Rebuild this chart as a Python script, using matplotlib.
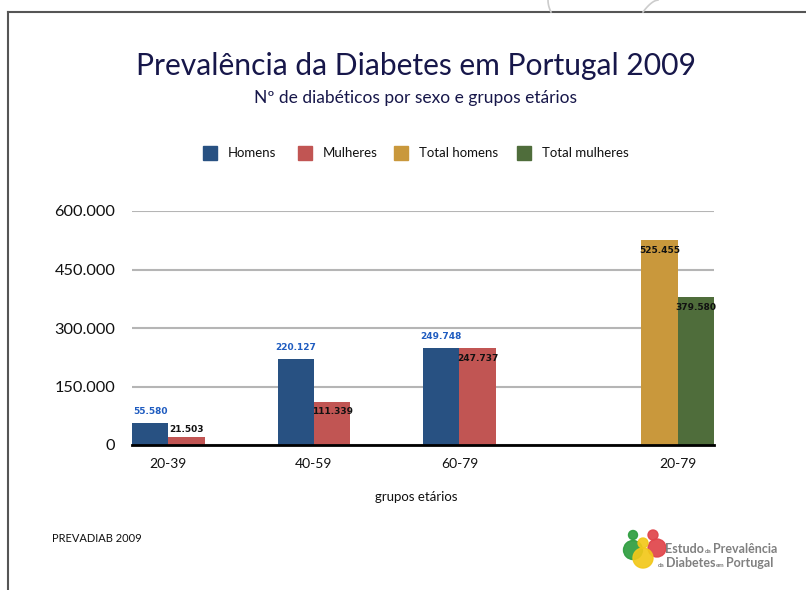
import matplotlib
matplotlib.use("Agg")
import matplotlib.pyplot as plt
from matplotlib.patches import Rectangle, Ellipse
from matplotlib.lines import Line2D
import numpy as np

# ---- data ----
groups = ['20-39', '40-59', '60-79']
homens = [55580, 220127, 249748]
mulheres = [21503, 111339, 247737]
total_group = ['20-79']
total_homens = [525455]
total_mulheres = [379580]
series_names = ['Homens', 'Mulheres', 'Total homens', 'Total mulheres']
yticks = [0, 150000, 300000, 450000, 600000]
ytick_labels = ['0', '150.000', '300.000', '450.000', '600.000']

colors = {'Homens': '#285182', 'Mulheres': '#c15553',
          'Total homens': '#c9983c', 'Total mulheres': '#4f6d3b'}

FONT = ['Lato', 'DejaVu Sans']
plt.rcParams['font.family'] = FONT

W, H = 806, 590
fig = plt.figure(figsize=(W / 100, H / 100), dpi=100)
fig.patch.set_facecolor('white')

def fx(px):
    return px / W

def fy(py):
    return 1 - py / H

# frame lines
fig.add_artist(Line2D([fx(8), fx(8)], [fy(12), fy(590)], color='#555555', lw=1.5))
fig.add_artist(Line2D([fx(8), fx(806)], [fy(12), fy(12)], color='#555555', lw=1.5))
# faint decorative arcs
t = np.linspace(0, 1, 20)
fig.add_artist(Line2D(fx(548 + 3 * t ** 2), fy(12 * t), color='#cccccc', lw=1.2))
fig.add_artist(Line2D(fx(658 - 15 * t ** 0.6), fy(12 * t), color='#cccccc', lw=1.2))

# axes
left, right, top, bottom = 132, 714, 211, 445
ax = fig.add_axes([fx(left), fy(bottom), fx(right - left), (bottom - top) / H])
bw = 0.25
xg = np.arange(len(groups))
xt = np.array([3.5])

ax.bar(xg - bw / 2, homens, bw, color=colors['Homens'], zorder=3)
ax.bar(xg + bw / 2, mulheres, bw, color=colors['Mulheres'], zorder=3)
ax.bar(xt - bw / 2, total_homens, bw, color=colors['Total homens'], zorder=3)
ax.bar(xt + bw / 2, total_mulheres, bw, color=colors['Total mulheres'], zorder=3)

ax.set_xlim(-bw, 3.5 + bw)
ax.set_ylim(0, 600000)
ax.set_yticks(yticks)
ax.set_yticklabels(ytick_labels, fontsize=11.8, color='#111111')
ax.set_xticks(list(xg) + list(xt))
ax.set_xticklabels(groups + total_group, fontsize=10, color='#111111')
ax.tick_params(axis='y', length=0, pad=12)
ax.tick_params(axis='x', length=0, pad=9)
for s in ['left', 'right', 'top']:
    ax.spines[s].set_visible(False)
ax.spines['bottom'].set_color('black')
ax.spines['bottom'].set_linewidth(2)
ax.spines['bottom'].set_zorder(4)
ax.yaxis.grid(True, color='#b5b5b5', lw=1.5, zorder=0)
ax.set_axisbelow(True)

def fmt(v):
    return '{:,}'.format(v).replace(',', '.')

lab_kw = dict(fontsize=6.5, fontweight='bold', family='DejaVu Sans', ha='center', zorder=5)
for x, v in zip(xg - bw / 2, homens):
    ax.annotate(fmt(v), (x, v), xytext=(0, 5), textcoords='offset points',
                va='bottom', color='#1f5cc0', **lab_kw)

def inside_labels(xs, vals):
    for x, v in zip(xs, vals):
        if v > 60000:
            ax.annotate(fmt(v), (x, v), xytext=(0, -4), textcoords='offset points',
                        va='top', color='#111111', **lab_kw)
        else:
            ax.annotate(fmt(v), (x, v), xytext=(0, 2), textcoords='offset points',
                        va='bottom', color='#111111', **lab_kw)

inside_labels(xg + bw / 2, mulheres)
inside_labels(xt - bw / 2, total_homens)
inside_labels(xt + bw / 2, total_mulheres)

# titles
fig.text(fx(416), fy(66), 'Prevalência da Diabetes em Portugal 2009', ha='center', va='center',
         fontsize=21.6, color='#17174a')
fig.text(fx(416), fy(98), 'Nº de diabéticos por sexo e grupos etários', ha='center', va='center',
         fontsize=12.5, color='#17174a')

# legend (manual)
sq_x = [203, 298, 394, 517]
for name, sx in zip(series_names, sq_x):
    fig.add_artist(Rectangle((fx(sx), fy(160)), fx(14), 14 / H, color=colors[name]))
    fig.text(fx(sx + 25), fy(153), name, ha='left', va='center', fontsize=9.5, color='#111111')

fig.text(fx(416), fy(497), 'grupos etários', ha='center', va='center', fontsize=9.5, color='#111111')
fig.text(fx(52), fy(538), 'PREVADIAB 2009', ha='left', va='center', fontsize=8, color='#111111')

# logo
for (cx, cy, r, c) in [(633, 550, 9.5, '#2e9e3f'), (633, 535, 4.5, '#2e9e3f'),
                       (657, 548, 9, '#e0444a'), (653, 535, 5, '#e0444a'),
                       (643, 558, 10, '#f2c81a'), (643, 543, 5, '#f2c81a')]:
    fig.add_artist(Ellipse((fx(cx), fy(cy)), fx(2 * r), 2 * r / H, color=c, alpha=0.92,
                           transform=fig.transFigure))

renderer = fig.canvas.get_renderer()

def run_text(x0, ypx, parts):
    x = x0
    for s, size in parts:
        tt = fig.text(fx(x), fy(ypx), s, ha='left', va='baseline', fontsize=size,
                      color='#808080', fontweight='bold')
        bb = tt.get_window_extent(renderer)
        x += bb.width + 1

run_text(665, 553, [('Estudo', 9), ('da', 4.5), ('Prevalência', 9)])
run_text(658, 567, [('da', 4.5), ('Diabetes', 9), ('em', 4.5), ('Portugal', 9)])

fig.savefig('out.png', dpi=100, facecolor='white')
